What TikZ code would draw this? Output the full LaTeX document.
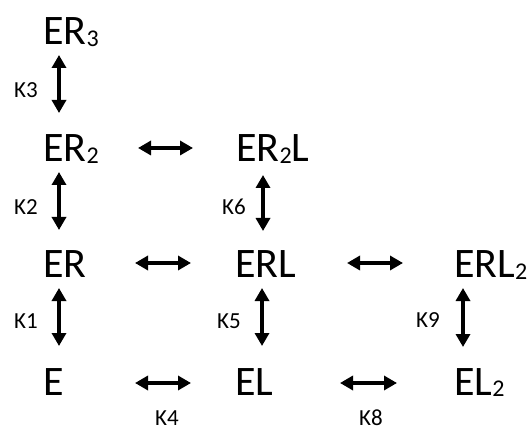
\documentclass[tikz,border=0pt]{standalone}
\usepackage{fontspec}
\setmainfont{Carlito}
\usetikzlibrary{arrows.meta}
% subscript digit of a species name
\newcommand\spsub[1]{\raisebox{-0.04em}{\fontsize{24}{24}\selectfont #1}}
\tikzset{
  species/.style={anchor=base west, inner sep=0pt, font=\fontsize{42}{42}\selectfont},
  rate/.style={inner sep=0pt, font=\fontsize{23}{23}\selectfont},
  equil/.style={line width=3.8pt, {Triangle[width=14pt,length=13pt]}-{Triangle[width=14pt,length=13pt]}, shorten <=0pt, shorten >=0pt}
}
\begin{document}
\begin{tikzpicture}[x=1pt,y=-1pt]
\useasboundingbox (0,0) rectangle (532,427);

% species
\node[species] (ER3)  at (43,45)   {ER\spsub{3}};
\node[species] (ER2)  at (43,162)  {ER\spsub{2}};
\node[species] (ER2L) at (236,162) {ER\spsub{2}L};
\node[species] (ER)   at (43,278)  {ER};
\node[species] (ERL)  at (235,278) {ERL};
\node[species] (ERL2) at (454,278) {ERL\spsub{2}};
\node[species] (E)    at (43,395)  {E};
\node[species] (EL)   at (235,395) {EL};
\node[species] (EL2)  at (454,395) {EL\spsub{2}};

% connector end points
\coordinate (k3t) at (59,55);   \coordinate (k3b) at (59,113);
\coordinate (k2t) at (59,172);  \coordinate (k2b) at (59,230);
\coordinate (k6t) at (263,175); \coordinate (k6b) at (263,231);
\coordinate (k1t) at (59,288);  \coordinate (k1b) at (59,346);
\coordinate (k5t) at (262,288); \coordinate (k5b) at (262,346);
\coordinate (k9t) at (463,288); \coordinate (k9b) at (463,347);
\coordinate (h1l) at (138,148); \coordinate (h1r) at (193,148);
\coordinate (h2l) at (135,263); \coordinate (h2r) at (191,263);
\coordinate (h3l) at (347,263); \coordinate (h3r) at (403,263);
\coordinate (h4l) at (135,383); \coordinate (h4r) at (191,383);
\coordinate (h5l) at (340,383); \coordinate (h5r) at (397,383);

% equilibria
\draw[equil] (k3t) -- (k3b);
\draw[equil] (k2t) -- (k2b);
\draw[equil] (k6t) -- (k6b);
\draw[equil] (k1t) -- (k1b);
\draw[equil] (k5t) -- (k5b);
\draw[equil] (k9t) -- (k9b);
\draw[equil] (h1l) -- (h1r);
\draw[equil] (h2l) -- (h2r);
\draw[equil] (h3l) -- (h3r);
\draw[equil] (h4l) -- (h4r);
\draw[equil] (h5l) -- (h5r);

% rate constants
\node[rate] (K3) at (26,90)   {K3};
\node[rate] (K2) at (26,207)  {K2};
\node[rate] (K6) at (234,207) {K6};
\node[rate] (K1) at (26,321)  {K1};
\node[rate] (K5) at (229,321) {K5};
\node[rate] (K9) at (428,320) {K9};
\node[rate] (K4) at (167,418) {K4};
\node[rate] (K8) at (371,418) {K8};
\end{tikzpicture}
\end{document}
